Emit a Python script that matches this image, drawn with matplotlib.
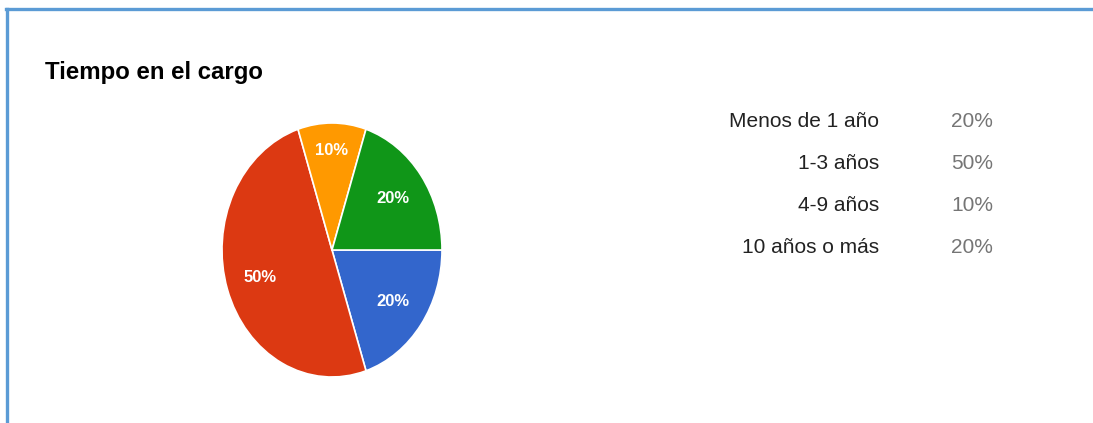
import numpy as np
import matplotlib.pyplot as plt
from matplotlib.lines import Line2D

plt.rcParams['font.family'] = ['Liberation Sans', 'DejaVu Sans']

# datos
categorias = ['Menos de 1 año', '1-3 años', '4-9 años', '10 años o más']
porcentajes = [20, 50, 10, 20]
colores = ['#3366cc', '#dc3912', '#ff9900', '#109618']
titulo = 'Tiempo en el cargo'

W, H = 1093, 423
fig = plt.figure(figsize=(W / 100, H / 100), dpi=100)

# marco azul (arriba e izquierda)
borde = '#5b9bd5'
fig.add_artist(Line2D([6 / W, 1], [1 - 9 / H, 1 - 9 / H], color=borde, lw=2.4,
                      transform=fig.transFigure))
fig.add_artist(Line2D([7 / W, 7 / W], [0, 1 - 9 / H], color=borde, lw=2.4,
                      transform=fig.transFigure))

fig.text(45 / W, 1 - 79 / H, titulo, fontsize=17.3, fontweight='bold',
         color='#000000', ha='left', va='baseline')

# pastel (algo estirado en vertical como en la captura)
ax = fig.add_axes([222 / W, 46 / H, 220 / W, 254 / H])
wedges, textos, autotextos = ax.pie(
    porcentajes, colors=colores, startangle=0, counterclock=False,
    autopct='%d%%', pctdistance=0.69,
    wedgeprops=dict(edgecolor='white', linewidth=1.2),
    textprops=dict(color='white', fontsize=12, fontweight='bold'))

# las porciones pequeñas llevan la etiqueta más hacia fuera
for w, t, p in zip(wedges, autotextos, porcentajes):
    if p <= 10:
        ang = np.deg2rad((w.theta1 + w.theta2) / 2)
        t.set_position((0.78 * np.cos(ang), 0.78 * np.sin(ang)))

ax.set_aspect('auto')
ax.set_xlim(-1.0, 1.0)
ax.set_ylim(-1.0, 1.0)
ax.axis('off')

# leyenda a la derecha
y0, dy = 121, 42.3
for i, (cat, p) in enumerate(zip(categorias, porcentajes)):
    y = 1 - (y0 + i * dy) / H
    fig.text(879 / W, y, cat, fontsize=15, color='#222222', ha='right', va='center')
    fig.text(993 / W, y, f'{p}%', fontsize=15, color='#757575', ha='right', va='center')

fig.savefig('out.png', dpi=100, facecolor='white')
